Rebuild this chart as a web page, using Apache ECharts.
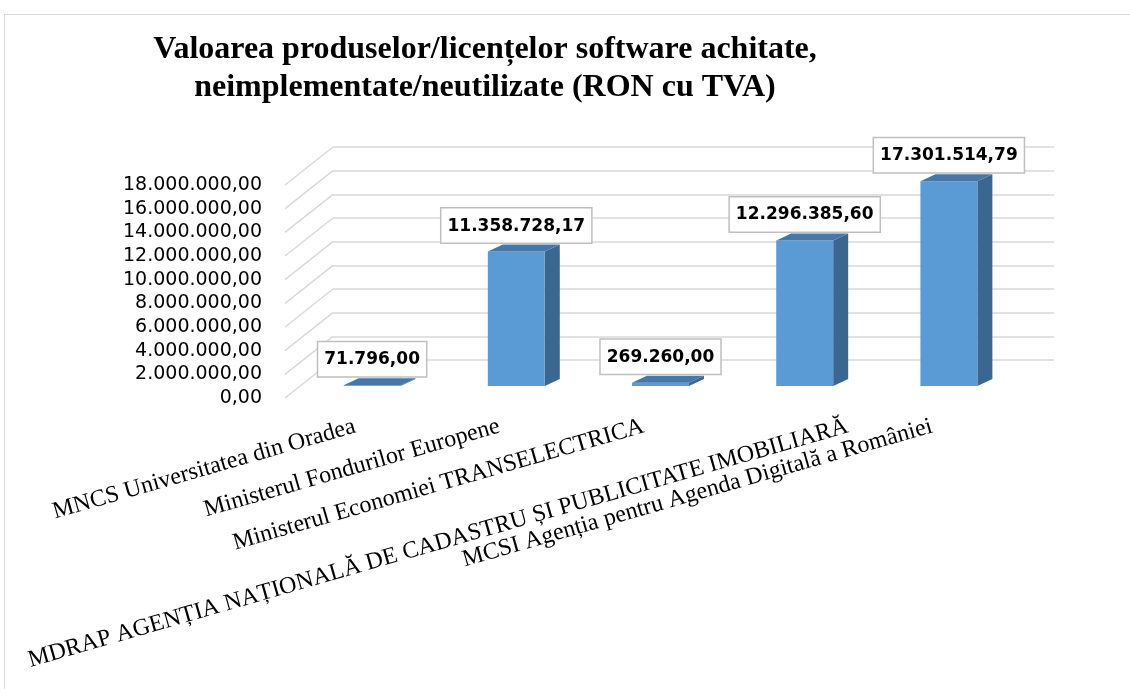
<!DOCTYPE html>
<html>
<head>
<meta charset="utf-8">
<title>Valoarea produselor/licentelor software</title>
<script src="https://cdn.jsdelivr.net/npm/echarts@6.0.0/dist/echarts.min.js"></script>
<style>
	html, body { margin: 0; padding: 0; background: #fff; overflow: hidden; }
	#frame { position: absolute; left: 4px; top: 14px; width: 1200px; height: 800px; border: 1px solid #d9d9d9; }
	#main { position: absolute; left: 0; top: 0; width: 1130px; height: 689px; }
</style>
</head>
<body>
<div id="frame"></div>
<div id="main"></div>
<script>
var titleText = "Valoarea produselor/licențelor software achitate,\nneimplementate/neutilizate (RON cu TVA)";

var categories = [
	"MNCS Universitatea din Oradea",
	"Ministerul Fondurilor Europene",
	"Ministerul Economiei TRANSELECTRICA",
	"MDRAP AGENȚIA NAȚIONALĂ DE CADASTRU ȘI PUBLICITATE IMOBILIARĂ",
	"MCSI Agenția pentru Agenda Digitală a României"
];
var values = [71796.00, 11358728.17, 269260.00, 12296385.60, 17301514.79];

var axisMax = 18000000;
var axisStep = 2000000;

// format ro-RO: 11.358.728,17
function ron(v) {
	var parts = Number(v).toFixed(2).split(".");
	return parts[0].replace(/\B(?=(\d{3})+(?!\d))/g, ".") + "," + parts[1];
}

// 3D look
var wallDx = 48, wallDy = -38;   // back wall offset
var barDx = 15, barDy = -12;     // bar front plane offset
var depthDx = 15, depthDy = -7;  // bar depth
var labelAngle = 16 * Math.PI / 180;
var catFont = '24px "Liberation Serif"';

var measureCtx = document.createElement("canvas").getContext("2d");
measureCtx.font = catFont;

var tickData = [];
for(var t = 0; t <= axisMax; t += axisStep) {
	tickData.push([0, t]);
}

var myChart = echarts.init(document.getElementById("main"), null, { renderer: "canvas" });

var option = {
	backgroundColor: "transparent",
	animation: false,
	title: {
		text: titleText,
		left: 485,
		top: 31,
		padding: 0,
		textAlign: "center",
		textStyle: {
			fontFamily: "Liberation Serif",
			fontWeight: "bold",
			fontSize: 32,
			lineHeight: 38,
			color: "#000"
		}
	},
	grid: [{
		left: 285, right: 124, top: 185, bottom: 291,
		outerBoundsMode: "none"
	}, {
		left: 333, right: 76, top: 147, bottom: 329,
		outerBoundsMode: "none"
	}],
	xAxis: [{
		type: "category",
		gridIndex: 0,
		data: categories,
		axisLine: { show: false },
		axisTick: { show: false },
		axisLabel: { show: false },
		splitLine: { show: false }
	}, {
		type: "category",
		gridIndex: 1,
		data: categories,
		axisLine: { show: false },
		axisTick: { show: false },
		axisLabel: { show: false },
		splitLine: { show: false }
	}],
	yAxis: [{
		type: "value",
		gridIndex: 0,
		min: 0,
		max: axisMax,
		interval: axisStep,
		axisLine: { show: false },
		axisTick: { show: false },
		splitLine: { show: false },
		axisLabel: {
			margin: 23,
			fontFamily: "DejaVu Sans",
			fontSize: 19,
			color: "#000",
			formatter: ron
		}
	}, {
		type: "value",
		gridIndex: 1,
		min: 0,
		max: axisMax,
		interval: axisStep,
		axisLine: { show: false },
		axisTick: { show: false },
		axisLabel: { show: false },
		splitLine: { show: true, lineStyle: { color: "#d9d9d9", width: 1.5 } }
	}],
	series: [{
		// side wall lines
		type: "custom",
		xAxisIndex: 0,
		yAxisIndex: 0,
		silent: true,
		data: tickData,
		renderItem: function(params, api) {
			var p = api.coord([api.value(0), api.value(1)]);
			var x0 = p[0] - api.size([1, 0])[0] / 2;
			return {
				type: "line",
				shape: { x1: x0, y1: p[1], x2: x0 + wallDx, y2: p[1] + wallDy },
				style: { stroke: "#d9d9d9", lineWidth: 1.5 }
			};
		}
	}, {
		// bars
		type: "custom",
		xAxisIndex: 0,
		yAxisIndex: 0,
		silent: true,
		data: values.map(function(v, i) { return [i, v]; }),
		renderItem: function(params, api) {
			var c = api.coord([api.value(0), api.value(1)]);
			var b = api.coord([api.value(0), 0]);
			var w = api.size([1, 0])[0] * 0.395;
			var x0 = c[0] + barDx - w / 2;
			var x1 = x0 + w;
			var yt = c[1] + barDy;
			var yb = b[1] + barDy;
			return {
				type: "group",
				children: [{
					type: "polygon",
					shape: { points: [[x1, yb], [x1, yt], [x1 + depthDx, yt + depthDy], [x1 + depthDx, yb + depthDy]] },
					style: { fill: "#3b6690" }
				}, {
					type: "rect",
					shape: { x: x0, y: yt, width: w, height: Math.max(yb - yt, 0.8) },
					style: { fill: "#5b9bd5" }
				}, {
					type: "polygon",
					shape: { points: [[x0, yt], [x1, yt], [x1 + depthDx, yt + depthDy], [x0 + depthDx, yt + depthDy]] },
					style: { fill: "#4677a9" }
				}, {
					type: "text",
					x: x0 + w / 2,
					y: yt - 9,
					style: {
						text: ron(api.value(1)),
						font: 'bold 17px "DejaVu Sans"',
						fill: "#000",
						align: "center",
						verticalAlign: "bottom",
						backgroundColor: "#fff",
						borderColor: "#bfbfbf",
						borderWidth: 1.5,
						padding: [9, 6, 8, 6]
					}
				}]
			};
		}
	}, {
		// category labels, kept inside the chart area like the original
		type: "custom",
		xAxisIndex: 0,
		yAxisIndex: 0,
		silent: true,
		data: categories.map(function(c, i) { return [i, 0]; }),
		renderItem: function(params, api) {
			var idx = api.value(0);
			var text = categories[idx];
			var p = api.coord([idx, 0]);
			var tw = measureCtx.measureText(text).width;
			var ax = p[0] - 2;
			var minAx = 32 + tw * Math.cos(labelAngle) - 12 * Math.sin(labelAngle);
			if(ax < minAx) {
				ax = minAx;
			}
			return {
				type: "text",
				x: ax,
				y: p[1] + 28,
				rotation: labelAngle,
				style: {
					text: text,
					font: catFont,
					fill: "#000",
					align: "right",
					verticalAlign: "middle"
				}
			};
		}
	}]
};

myChart.setOption(option, true);
</script>
</body>
</html>
